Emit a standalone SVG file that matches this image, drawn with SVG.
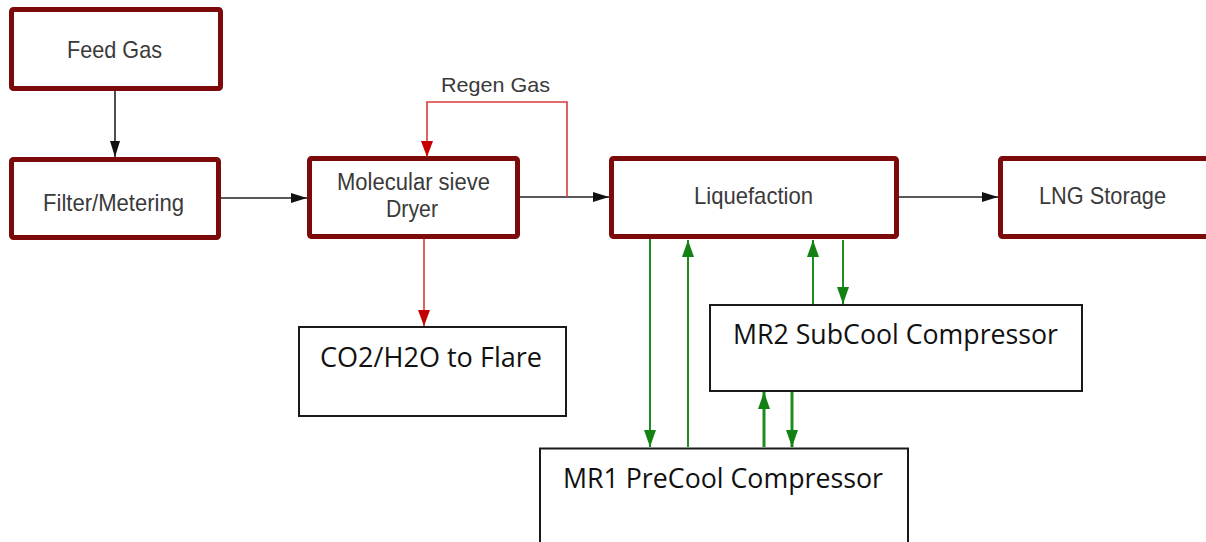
<svg xmlns="http://www.w3.org/2000/svg" width="1206" height="542" viewBox="0 0 1206 542">
<style>
.pbox{fill:#fff;stroke:#7c0a0a;stroke-width:5}
.cbox{fill:#fff;stroke:#1a1a1a;stroke-width:2}
.lbl{font-family:"Liberation Sans",Arial,sans-serif;fill:#3a3a3a;text-anchor:middle}
.big{font-family:"Open Sans","Noto Sans",sans-serif;fill:#111;text-anchor:middle;font-size:27px}
.blk{stroke:#222;stroke-width:1.6;fill:none}
.red{stroke:#d83a3a;stroke-width:1.6;fill:none}
.grn{stroke:#1f8c1f;stroke-width:2;fill:none}
.grn3{stroke:#1f8c1f;stroke-width:3;fill:none}
</style>
<defs>
<marker id="ab" viewBox="0 0 16 10" refX="16" refY="5" markerWidth="16" markerHeight="10" markerUnits="userSpaceOnUse" orient="auto"><path d="M0,0 L16,5 L0,10 z" fill="#111"/></marker>
<marker id="ar" viewBox="0 0 16 12" refX="16" refY="6" markerWidth="16" markerHeight="12" markerUnits="userSpaceOnUse" orient="auto"><path d="M0,0 L16,6 L0,12 z" fill="#c40000"/></marker>
<marker id="ag" viewBox="0 0 17 12" refX="17" refY="6" markerWidth="17" markerHeight="12" markerUnits="userSpaceOnUse" orient="auto"><path d="M0,0 L17,6 L0,12 z" fill="#138213"/></marker>
</defs>
<rect width="1206" height="542" fill="#fff"/>
<g id="connectors">
<line class="blk" x1="115" y1="91" x2="115" y2="157" marker-end="url(#ab)"/>
<line class="blk" x1="221" y1="198" x2="307" y2="198" marker-end="url(#ab)"/>
<line class="blk" x1="520" y1="197" x2="609" y2="197" marker-end="url(#ab)"/>
<line class="blk" x1="899" y1="197" x2="998" y2="197" marker-end="url(#ab)"/>
<path class="red" d="M567,197 V102 H427 V157" marker-end="url(#ar)"/>
<line class="red" x1="424" y1="239" x2="424" y2="326" marker-end="url(#ar)"/>
<line class="grn" x1="650" y1="239" x2="650" y2="447" marker-end="url(#ag)"/>
<line class="grn" x1="688" y1="447" x2="688" y2="240" marker-end="url(#ag)"/>
<line class="grn" x1="813" y1="304" x2="813" y2="240" marker-end="url(#ag)"/>
<line class="grn" x1="843" y1="240" x2="843" y2="304" marker-end="url(#ag)"/>
<line class="grn3" x1="764" y1="447" x2="764" y2="392" marker-end="url(#ag)"/>
<line class="grn3" x1="792" y1="392" x2="792" y2="447" marker-end="url(#ag)"/>
<text class="lbl" x="495.5" y="92" font-size="21" textLength="109" lengthAdjust="spacingAndGlyphs">Regen Gas</text>
</g>
<g id="feed-gas">
<rect class="pbox" x="11.5" y="9.5" width="209" height="79" rx="2"/>
<text class="lbl" x="114.5" y="58" font-size="24" textLength="95" lengthAdjust="spacingAndGlyphs">Feed Gas</text>
</g>
<g id="filter-metering">
<rect class="pbox" x="11.5" y="159.5" width="207" height="78" rx="2"/>
<text class="lbl" x="113.5" y="211" font-size="24" textLength="141" lengthAdjust="spacingAndGlyphs">Filter/Metering</text>
</g>
<g id="dryer">
<rect class="pbox" x="309.5" y="158.5" width="208" height="78" rx="2"/>
<text class="lbl" x="413.5" y="190" font-size="23" textLength="153" lengthAdjust="spacingAndGlyphs">Molecular sieve</text>
<text class="lbl" x="412" y="217" font-size="23" textLength="52" lengthAdjust="spacingAndGlyphs">Dryer</text>
</g>
<g id="liquefaction">
<rect class="pbox" x="611.5" y="158.5" width="285" height="78" rx="2"/>
<text class="lbl" x="753.5" y="204" font-size="24" textLength="119" lengthAdjust="spacingAndGlyphs">Liquefaction</text>
</g>
<g id="lng-storage">
<rect class="pbox" x="1000.5" y="158.5" width="260" height="78" rx="2"/>
<text class="lbl" x="1102.5" y="204" font-size="24" textLength="127" lengthAdjust="spacingAndGlyphs">LNG Storage</text>
</g>
<g id="flare">
<rect class="cbox" x="299" y="327" width="267" height="89"/>
<text class="big" x="431" y="367" textLength="222" lengthAdjust="spacingAndGlyphs">CO2/H2O to Flare</text>
</g>
<g id="mr2">
<rect class="cbox" x="710" y="305" width="372" height="86"/>
<text class="big" x="895.5" y="344" textLength="325" lengthAdjust="spacingAndGlyphs">MR2 SubCool Compressor</text>
</g>
<g id="mr1">
<rect class="cbox" x="540" y="448.5" width="368" height="120"/>
<text class="big" x="723" y="488" textLength="320" lengthAdjust="spacingAndGlyphs">MR1 PreCool Compressor</text>
</g>
</svg>
